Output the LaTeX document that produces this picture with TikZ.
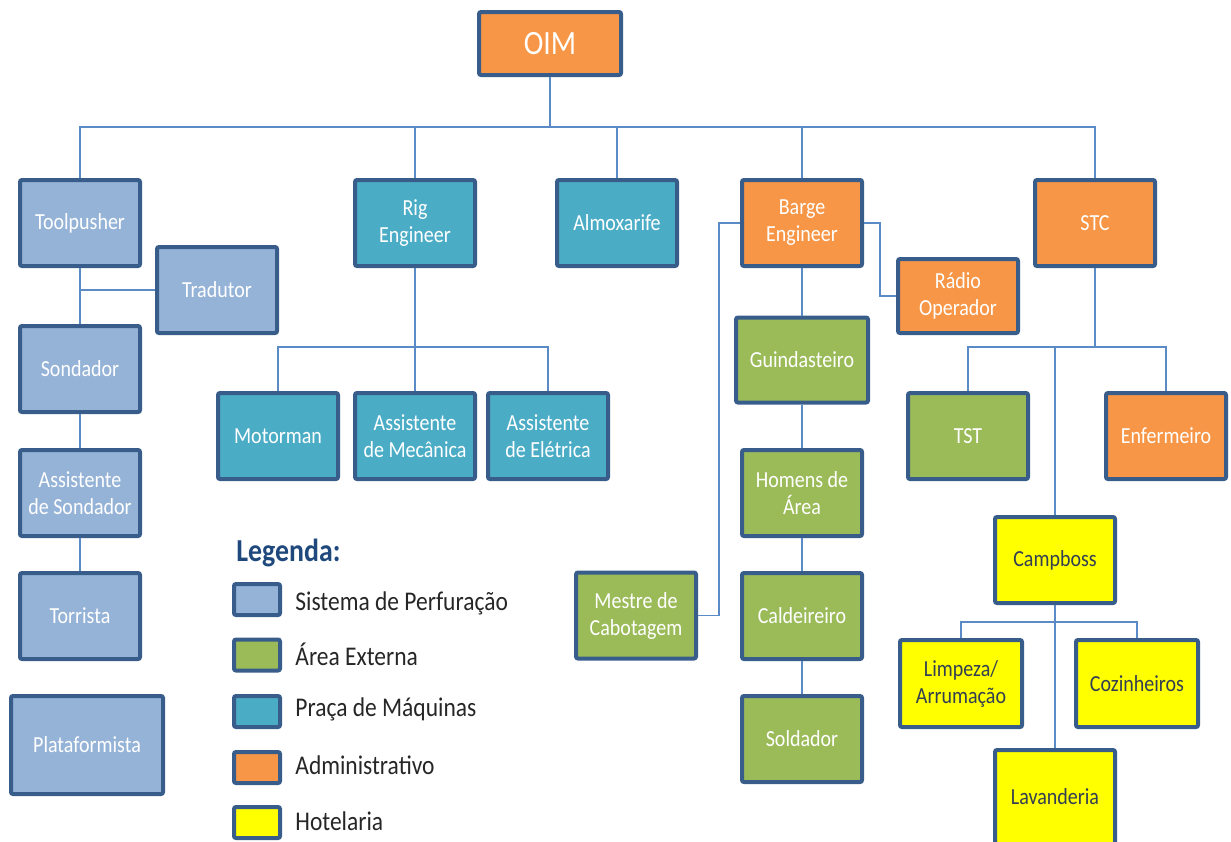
\documentclass[tikz,border=0pt]{standalone}
\usepackage{fontspec}
\setmainfont[FakeStretch=0.87]{Carlito}
\usepackage{tikz}
\usetikzlibrary{positioning, calc}
\definecolor{perfblue}{RGB}{149, 179, 215}
\definecolor{extgreen}{RGB}{155, 187, 89}
\definecolor{maqteal}{RGB}{75, 172, 198}
\definecolor{admorange}{RGB}{247, 150, 70}
\definecolor{hotyellow}{RGB}{255, 255, 0}
\definecolor{boxborder}{RGB}{56, 93, 138}
\definecolor{linkblue}{RGB}{91, 139, 199}
\definecolor{legtitle}{RGB}{31, 73, 125}
\definecolor{hottext}{RGB}{50, 62, 82}
\tikzset{
	box/.style={draw=boxborder, line width=2pt, rounded corners=1pt,
		minimum width=60pt, minimum height=43pt, align=center, text=white,
		inner sep=1pt, font=\fontsize{11.5}{13.5}\selectfont},
	perf/.style={box, fill=perfblue},
	ext/.style={box, fill=extgreen},
	maq/.style={box, fill=maqteal},
	adm/.style={box, fill=admorange},
	hot/.style={box, fill=hotyellow, text=hottext},
	legbox/.style={draw=boxborder, line width=2pt, rounded corners=1pt,
		minimum width=23pt, minimum height=15.5pt, inner sep=0pt},
	legtext/.style={anchor=west, inner sep=0pt, text=black!85,
		font=\fontsize{13.5}{15}\selectfont},
	link/.style={draw=linkblue, line width=0.7pt}
}

\begin{document}
\begin{tikzpicture}[x=0.5pt,y=-0.5pt]
	\useasboundingbox (0,0) rectangle (1231,841);
	% topo
	\node (oim) at (550,43.5) [adm, minimum width=71pt, minimum height=31.5pt,
		font=\fontsize{17}{19}\selectfont] {OIM};
	\node (toolpusher) at (80,223) [perf] {Toolpusher};
	\node (rig) at (415,223) [maq] {Rig\\Engineer};
	\node (almox) at (617,223) [maq] {Almoxarife};
	\node (barge) at (802,223) [adm] {Barge\\Engineer};
	\node (stc) at (1095,223) [adm] {STC};
	% sistema de perfuracao
	\node (tradutor) at (217,290) [perf] {Tradutor};
	\node (sondador) at (80,369) [perf] {Sondador};
	\node (assist) at (80,493) [perf] {Assistente\\de Sondador};
	\node (torrista) at (80,616) [perf] {Torrista};
	\node (plataf) at (87,745) [perf, minimum width=76pt, minimum height=49pt] {Plataformista};
	% praca de maquinas
	\node (motorman) at (278,436) [maq] {Motorman};
	\node (asmec) at (415,436) [maq] {Assistente\\de Mecânica};
	\node (asele) at (548,436) [maq] {Assistente\\de Elétrica};
	% barge engineer
	\node (radio) at (958,296) [adm, minimum height=37pt] {Rádio\\Operador};
	\node (guind) at (802,360) [ext, minimum width=66pt, minimum height=42.5pt] {Guindasteiro};
	\node (homens) at (802,493) [ext] {Homens de\\Área};
	\node (cald) at (802,616) [ext] {Caldeireiro};
	\node (sold) at (802,739) [ext] {Soldador};
	\node (mestre) at (636,615.5) [ext] {Mestre de\\Cabotagem};
	% stc
	\node (tst) at (968,436) [ext] {TST};
	\node (enferm) at (1166,436) [adm] {Enfermeiro};
	\node (camp) at (1055,560) [hot] {Campboss};
	\node (limp) at (961,683.5) [hot, minimum width=61pt, minimum height=43.5pt] {Limpeza/\\Arrumação};
	\node (cozin) at (1137,683.5) [hot, minimum width=61pt, minimum height=43.5pt] {Cozinheiros};
	\node (lav) at (1055,797) [hot, minimum height=47pt] {Lavanderia};

	% ligacoes
	\coordinate (bus) at (550,127);
	\coordinate (rigbus) at (415,347);
	\coordinate (stcbus) at (1095,347);
	\coordinate (campbus) at (1055,622);
	\draw[link] (oim) -- (bus);
	\draw[link] (toolpusher.north) |- (bus) -| (stc.north);
	\foreach \n in {rig, almox, barge}
		\draw[link] (\n.north) -- (\n.north |- bus);
	\draw[link] (toolpusher) -- (sondador);
	\draw[link] (tradutor.west) -- (tradutor.west -| toolpusher.south);
	\draw[link] (sondador) -- (assist);
	\draw[link] (assist) -- (torrista);
	\draw[link] (rig) -- (asmec);
	\draw[link] (motorman.north) |- (rigbus) -| (asele.north);
	\draw[link] (barge.west) -- ++(-21,0) |- (mestre.east);
	\draw[link] (barge.east) -- ++(16,0) |- (radio.west);
	\draw[link] (barge) -- (guind);
	\draw[link] (guind) -- (homens);
	\draw[link] (homens) -- (cald);
	\draw[link] (cald) -- (sold);
	\draw[link] (stc.south) -- (stcbus);
	\draw[link] (tst.north) |- (stcbus) -| (enferm.north);
	\draw[link] (camp.north) -- (camp.north |- stcbus);
	\draw[link] (camp) -- (lav);
	\draw[link] (limp.north) |- (campbus) -| (cozin.north);

	% legenda
	\node (legtit) at (236,553) [anchor=west, inner sep=0pt, text=legtitle,
		font=\fontsize{16}{18}\selectfont\bfseries] {Legenda:};
	\node (leg1) at (257,599.5) [legbox, fill=perfblue] {};
	\node (leg2) at (257,655) [legbox, fill=extgreen] {};
	\node (leg3) at (257,711.5) [legbox, fill=maqteal] {};
	\node (leg4) at (257,767.5) [legbox, fill=admorange] {};
	\node (leg5) at (257,822.5) [legbox, fill=hotyellow] {};
	\node (legt1) at (295,603) [legtext] {Sistema de Perfuração};
	\node (legt2) at (295,654) [legtext] {Área Externa};
	\node (legt3) at (295,709) [legtext] {Praça de Máquinas};
	\node (legt4) at (295,765) [legtext] {Administrativo};
	\node (legt5) at (295,821) [legtext] {Hotelaria};
\end{tikzpicture}
\end{document}
